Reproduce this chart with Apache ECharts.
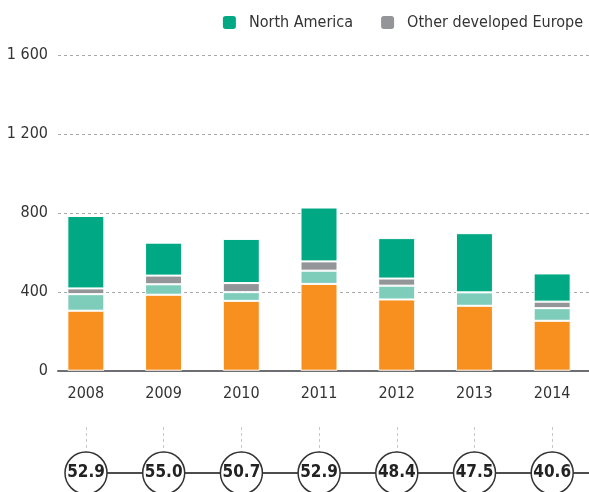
<!DOCTYPE html>
<html>
<head>
<meta charset="utf-8">
<script src="https://cdn.jsdelivr.net/npm/echarts@6/dist/echarts.min.js"></script>
<style>
    html, body { margin: 0; padding: 0; background: #fff; }
    #chart { width: 589px; height: 492px; }
</style>
</head>
<body>
<div id="chart"></div>
<script>
(() => {
    'use strict'

    const years = ['2008', '2009', '2010', '2011', '2012', '2013', '2014']
    // stacked bottom to top
    const orange = [304, 385, 354, 440, 361, 329, 253]
    const teal = [84, 53, 44, 67, 70, 68, 64]
    const otherEurope = [29, 44, 46, 47, 36, 0, 33]
    const northAmerica = [367, 167, 224, 273, 205, 300, 143]
    const shares = [52.9, 55.0, 50.7, 52.9, 48.4, 47.5, 40.6]
    const yTicks = [0, 400, 800, 1200, 1600]

    const FONT = '"DejaVu Sans Condensed", "Roboto", sans-serif'
    const TEXT = '#333'

    const chart = echarts.init(document.getElementById('chart'), null, {renderer: 'canvas'})

    const barSeries = (name, data, color) => ({
        name: name,
        type: 'bar',
        stack: 'total',
        xAxisIndex: 0,
        yAxisIndex: 0,
        barWidth: 37,
        itemStyle: {color: color, borderColor: '#fff', borderWidth: 1},
        data: data
    })

    const options = {
        animation: false,
        backgroundColor: '#fff',
        textStyle: {fontFamily: FONT},
        legend: {
            top: 9,
            right: 1,
            icon: 'roundRect',
            itemWidth: 15,
            itemHeight: 15,
            itemGap: 26,
            data: ['North America', 'Other developed Europe'],
            textStyle: {fontFamily: FONT, fontSize: 16, color: TEXT, padding: [0, 0, 0, 7]}
        },
        grid: [
            {left: 47, right: -2, top: 55, height: 315.7, outerBoundsMode: 'none'},
            {left: 58, right: 0, top: 55, height: 315.7, outerBoundsMode: 'none'},
            {left: 86, right: -5, top: 427, height: 92, outerBoundsMode: 'none'}
        ],
        xAxis: [
            {
                gridIndex: 0,
                type: 'category',
                data: years,
                axisLine: {show: false},
                axisTick: {show: false},
                axisLabel: {fontFamily: FONT, fontSize: 16, color: TEXT, margin: 15}
            },
            {
                gridIndex: 1,
                type: 'value',
                min: 0,
                max: 1,
                axisLine: {lineStyle: {color: '#6d6e71', width: 2}},
                axisTick: {show: false},
                axisLabel: {show: false},
                splitLine: {show: false}
            },
            {
                gridIndex: 2,
                type: 'value',
                min: 0,
                max: 508 / 77.7,
                interval: 1,
                axisLine: {show: false},
                axisTick: {show: false},
                axisLabel: {show: false},
                splitLine: {show: true, lineStyle: {color: '#c8c8c8', type: [3, 3], width: 1}}
            }
        ],
        yAxis: [
            {
                gridIndex: 0,
                type: 'value',
                min: 0,
                max: 1600,
                interval: 400,
                show: false
            },
            {
                gridIndex: 1,
                type: 'value',
                min: yTicks[0],
                max: yTicks[yTicks.length - 1],
                interval: 400,
                axisLine: {show: false},
                axisTick: {show: false},
                axisLabel: {
                    fontFamily: FONT,
                    fontSize: 16,
                    color: TEXT,
                    margin: 10,
                    formatter: v => String(v).replace(/\B(?=(\d{3})+(?!\d))/g, ' ')
                },
                splitLine: {lineStyle: {color: '#a7a9ac', type: [3, 3], width: 1}}
            },
            {
                gridIndex: 2,
                type: 'value',
                min: -1,
                max: 1,
                show: false
            }
        ],
        series: [
            barSeries('Developing', orange, '#f7901e'),
            barSeries('Other', teal, '#7ecdbb'),
            barSeries('Other developed Europe', otherEurope, '#939598'),
            barSeries('North America', northAmerica, '#00a884'),
            {
                name: 'share line',
                type: 'line',
                xAxisIndex: 2,
                yAxisIndex: 2,
                symbol: 'none',
                lineStyle: {color: '#4d4d4d', width: 2},
                data: shares.map((v, i) => [i, 0]),
                markLine: {
                    silent: true,
                    symbol: 'none',
                    label: {show: false},
                    lineStyle: {color: '#4d4d4d', width: 2, type: 'solid'},
                    data: [[{coord: [shares.length - 1, 0]}, {coord: [508 / 77.7, 0]}]]
                },
                z: 2
            },
            {
                name: 'share',
                type: 'scatter',
                xAxisIndex: 2,
                yAxisIndex: 2,
                symbol: 'circle',
                symbolSize: 42,
                itemStyle: {color: '#fff', borderColor: '#333', borderWidth: 1.5, opacity: 1},
                label: {
                    show: true,
                    position: 'inside',
                    fontFamily: FONT,
                    fontSize: 17,
                    fontWeight: 'bold',
                    color: '#222',
                    formatter: p => p.value[2].toFixed(1)
                },
                data: shares.map((v, i) => [i, 0, v]),
                z: 10
            }
        ]
    }

    chart.setOption(options)
})()
</script>
</body>
</html>
